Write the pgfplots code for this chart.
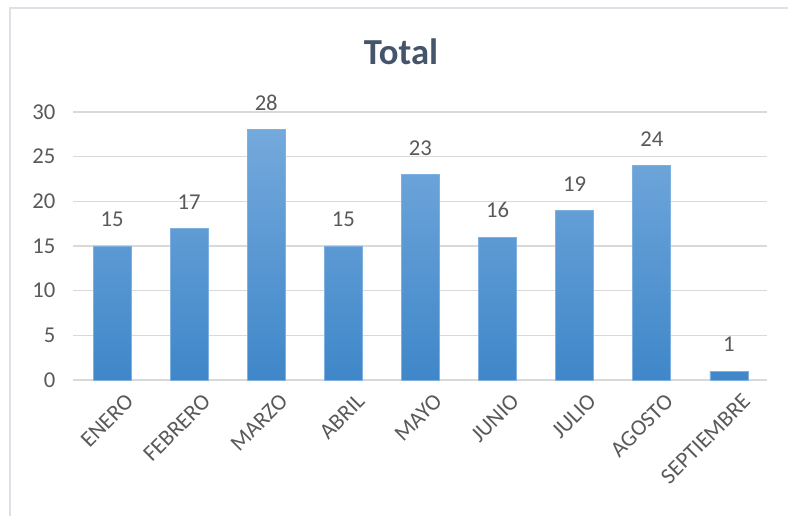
\documentclass[border=0pt]{standalone}
\usepackage{fontspec}
\setmainfont{Carlito}
\usepackage{pgfplots}
\pgfplotsset{compat=1.18}

\definecolor{titlecol}{HTML}{44546A}
\definecolor{tickcol}{HTML}{595959}
\definecolor{gridcol}{HTML}{D9D9D9}
\definecolor{framecol}{HTML}{DCE1E8}
\definecolor{bartop}{HTML}{74A9DC}
\definecolor{barbot}{HTML}{3F87C9}
\definecolor{baredge}{HTML}{7FB1E0}

\begin{document}
\begin{tikzpicture}
\path[use as bounding box] (0,0) rectangle (591pt,387pt);
% chart frame (only left and top edges are visible in the screenshot)
\draw[framecol, line width=1pt] (7.5pt,0) -- (7.5pt,381pt) -- (591pt,381pt);

\node[font=\fontsize{27.5}{30}\selectfont\bfseries, text=titlecol, anchor=base, inner sep=0]
  at (300.75pt,338.25pt) {Total};

\begin{axis}[
    at={(55.1pt,102pt)}, anchor=south west,
    scale only axis,
    width=520.5pt, height=201pt,
    ybar, bar width=28.5pt,
    xmin=-0.5, xmax=8.5,
    ymin=0, ymax=30,
    ytick={0,5,...,30},
    xtick=data,
    xticklabels={ENERO,FEBRERO,MARZO,ABRIL,MAYO,JUNIO,JULIO,AGOSTO,SEPTIEMBRE},
    axis line style={draw=none},
    tick style={draw=none},
    ymajorgrids,
    major grid style={gridcol, line width=0.9pt},
    /pgf/number format/assume math mode=true,
    ticklabel style={font=\fontsize{17}{20}\selectfont, text=tickcol},
    yticklabel style={xshift=-10pt},
    xticklabel style={rotate=45, anchor=north east, inner sep=0pt, xshift=3pt, yshift=-10pt},
    nodes near coords,
    nodes near coords style={font=\fontsize{17}{20}\selectfont, text=tickcol, inner sep=0pt, yshift=14pt},
    clip=false,
]
\addplot[draw=baredge, line width=0.6pt, top color=bartop, bottom color=barbot]
  coordinates {(0,15) (1,17) (2,28) (3,15) (4,23) (5,16) (6,19) (7,24) (8,1)};
\end{axis}
\end{tikzpicture}
\end{document}
